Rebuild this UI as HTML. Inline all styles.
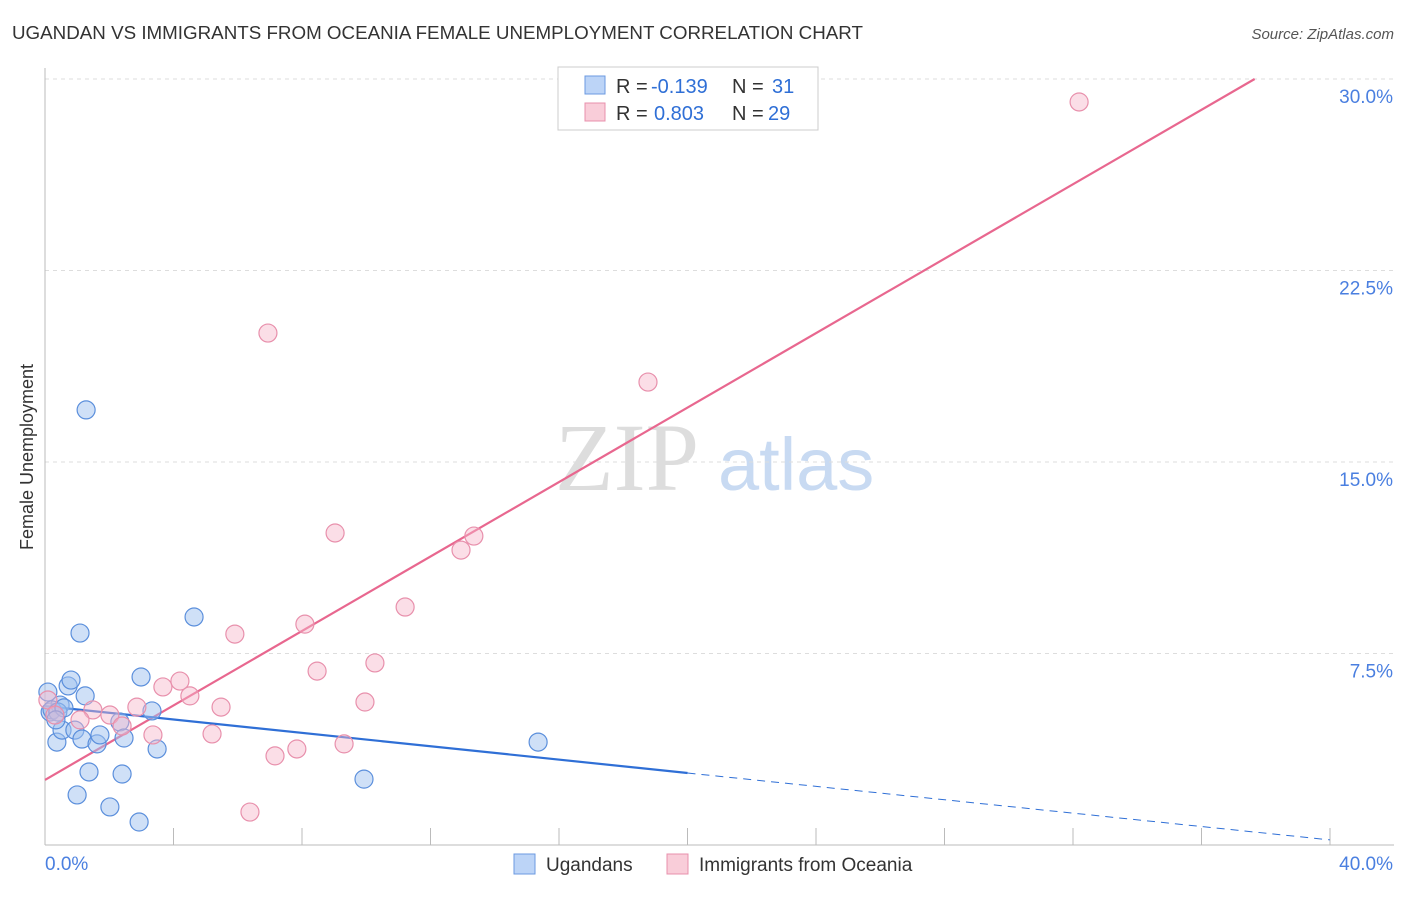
<!DOCTYPE html>
<html><head><meta charset="utf-8"><style>
body{margin:0;background:#fff;font-family:"Liberation Sans",sans-serif}
</style></head><body>
<svg id="chart" width="1406" height="892" xmlns="http://www.w3.org/2000/svg" font-family="Liberation Sans, sans-serif">
<text x="12" y="39" font-size="18" fill="#333" textLength="851" lengthAdjust="spacingAndGlyphs">UGANDAN VS IMMIGRANTS FROM OCEANIA FEMALE UNEMPLOYMENT CORRELATION CHART</text>
<text x="1394" y="39" font-size="15" fill="#555" text-anchor="end" font-style="italic">Source: ZipAtlas.com</text>
<text transform="translate(33,457) rotate(-90)" font-size="18" fill="#333" text-anchor="middle">Female Unemployment</text>
<g font-size="96">
<text x="555" y="490" fill="#ddd" font-family="Liberation Serif, serif">ZIP</text>
<text x="718" y="490" fill="#c8daf2" font-size="74">atlas</text>
</g>
<g id="grid"></g><g id="axes"></g><g id="trend"></g><g id="pts"></g>
<g font-size="20">
<rect x="558" y="67" width="260" height="63" fill="#fff" stroke="#ccc"/>
<rect x="585" y="76" width="20" height="18" fill="#bcd4f7" stroke="#6b9ae0"/>
<text x="616" y="93" fill="#333">R =</text>
<text x="651" y="93" fill="#2f6fd6">-0.139</text>
<text x="732" y="93" fill="#333">N =</text>
<text x="772" y="93" fill="#2f6fd6">31</text>
<rect x="585" y="103" width="20" height="18" fill="#f9cdd9" stroke="#e890ac"/>
<text x="616" y="120" fill="#333">R =</text>
<text x="654" y="120" fill="#2f6fd6">0.803</text>
<text x="732" y="120" fill="#333">N =</text>
<text x="768" y="120" fill="#2f6fd6">29</text>
</g>
<g>
<rect x="514" y="854" width="21" height="20" fill="#bcd4f7" stroke="#6b9ae0"/>
<text x="546" y="871" font-size="19" fill="#333">Ugandans</text>
<rect x="667" y="854" width="21" height="20" fill="#f9cdd9" stroke="#e890ac"/>
<text x="699" y="871" font-size="19" fill="#333">Immigrants from Oceania</text>
</g>
</svg>
<script>
const ugX=[1.28,0.09,0.16,0.37,0.47,0.53,0.72,0.81,0.93,1.09,1.15,1.25,1.37,1.00,1.62,1.71,2.02,2.33,2.40,2.46,2.93,2.99,3.33,3.49,4.64,9.93,15.35,0.22,0.40,0.59,0.34];
const ugY=[17.04,5.99,5.21,4.03,5.48,4.50,6.23,6.46,4.50,8.30,4.15,5.84,2.86,1.96,3.96,4.31,1.49,4.82,2.78,4.19,0.90,6.58,5.25,3.76,8.93,2.58,4.03,5.29,5.21,5.37,4.90];
const ocX=[32.19,6.94,18.77,9.03,13.35,12.95,11.21,8.09,5.91,8.47,10.27,4.20,3.67,4.51,2.86,5.48,9.96,1.49,2.02,1.09,2.40,3.36,5.20,7.84,7.16,9.31,6.38,0.09,0.31];
const ocY=[29.10,20.05,18.13,12.22,12.10,11.55,9.32,8.65,8.26,6.81,7.13,6.42,6.19,5.84,5.40,5.40,5.60,5.29,5.09,4.90,4.66,4.31,4.35,3.76,3.49,3.96,1.29,5.68,5.09];
const yTicks=[7.5,15,22.5,30];
const yTickLabels=["7.5%","15.0%","22.5%","30.0%"];
const xTicks=[0,4,8,12,16,20,24,28,32,36,40];
const ugTrend=[5.44,-0.131];
const ocTrend=[2.55,0.729];
const NS="http://www.w3.org/2000/svg";
const sx=v=>45+v/40*1285, sy=v=>845-v/7.5*191.5;
function mk(p,tag,a){const e=document.createElementNS(NS,tag);for(const k in a)e.setAttribute(k,a[k]);document.getElementById(p).appendChild(e);return e;}
yTicks.forEach((t,i)=>{
 const g=mk('grid','line',{x1:45,x2:1394,y1:sy(t),y2:sy(t),stroke:'#ddd','stroke-dasharray':'4,4'});
 
 
 const l=mk('grid','text',{x:1393,y:sy(t)+24,'font-size':19,fill:'#4a7fe0','text-anchor':'end'});
 l.textContent=yTickLabels[i];
 
 
});
const ya=mk('axes','line',{x1:45,x2:45,y1:68,y2:845,stroke:'#bbb'});


const xa=mk('axes','line',{x1:45,x2:1394,y1:845,y2:845,stroke:'#bbb'});


xTicks.forEach(t=>{
 const k=mk('axes','line',{x1:sx(t),x2:sx(t),y1:828,y2:845,stroke:'#bbb'});
 
 
});
const xl0=mk('axes','text',{x:45,y:870,'font-size':19,fill:'#4a7fe0'});xl0.textContent='0.0%';


const xl1=mk('axes','text',{x:1393,y:870,'font-size':19,fill:'#4a7fe0','text-anchor':'end'});xl1.textContent='40.0%';


const oxEnd=(30-ocTrend[0])/ocTrend[1];
const ot=mk('trend','line',{x1:sx(0),y1:sy(ocTrend[0]),x2:sx(oxEnd),y2:sy(30),stroke:'#e8678f','stroke-width':2.2});


const ut=mk('trend','line',{x1:sx(0),y1:sy(ugTrend[0]),x2:sx(20),y2:sy(ugTrend[0]+ugTrend[1]*20),stroke:'#2f6fd6','stroke-width':2.2});


const ud=mk('trend','line',{x1:sx(20),y1:sy(ugTrend[0]+ugTrend[1]*20),x2:sx(40),y2:sy(ugTrend[0]+ugTrend[1]*40),stroke:'#2f6fd6','stroke-width':1,'stroke-dasharray':'8,6'});


ugX.forEach((x,i)=>{
 const c=mk('pts','circle',{cx:sx(x),cy:sy(ugY[i]),r:9,fill:'rgba(160,194,240,0.5)',stroke:'#5b8fdc','stroke-width':1.2});
 
 
});
ocX.forEach((x,i)=>{
 const c=mk('pts','circle',{cx:sx(x),cy:sy(ocY[i]),r:9,fill:'rgba(246,182,202,0.45)',stroke:'#e890ac','stroke-width':1.2});
 
 
});
</script>
</body></html>
